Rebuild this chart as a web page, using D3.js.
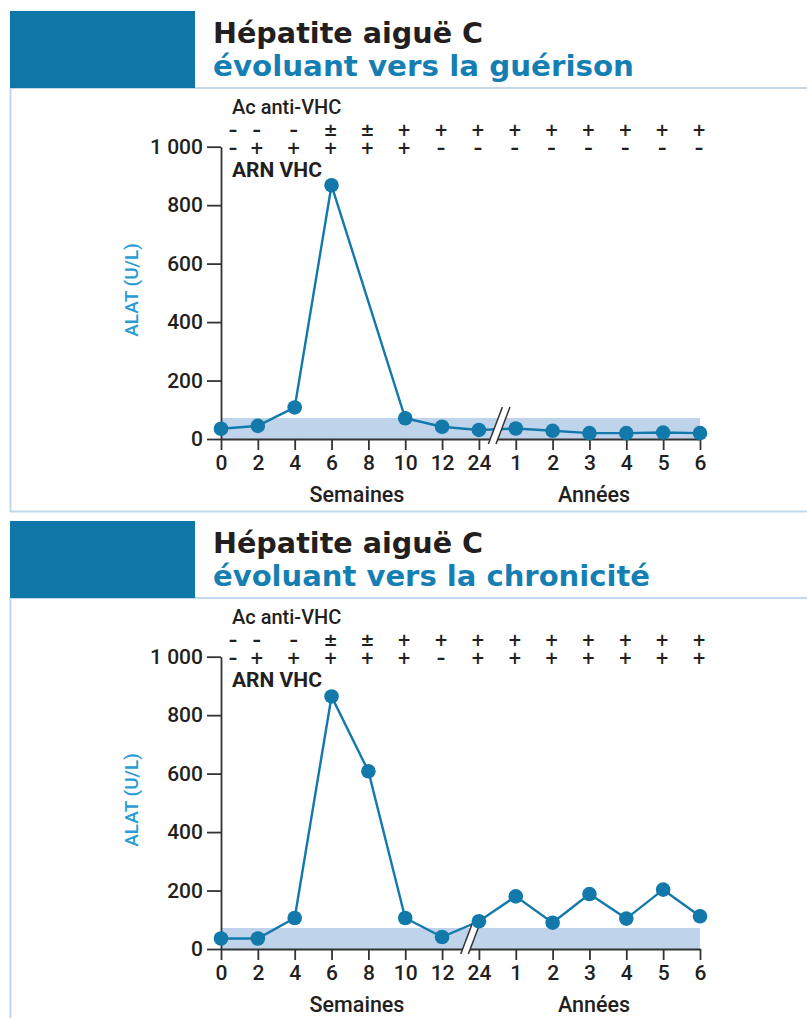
<!DOCTYPE html>
<html>
<head>
<meta charset="utf-8">
<script src="https://cdn.jsdelivr.net/npm/d3@7"></script>
<style>
  body { margin: 0; background: #fff; }
  svg { display: block; font-family: Roboto, "DejaVu Sans", sans-serif; }
  .tick text { font-family: Roboto, sans-serif; font-weight: 500; font-size: 21px; fill: #231f20; }
  .tick line, .domain { stroke: #333; stroke-width: 1.8; }
</style>
</head>
<body>
<div id="chart"></div>
<script>
// x categories: semaines then années
const xLabels = ['0', '2', '4', '6', '8', '10', '12', '24', '1', '2', '3', '4', '5', '6'];
const yTicks = [0, 200, 400, 600, 800, 1000];
const normalMax = 72;

// ALAT (U/L), null = no point
const guerisonAlat = [35, 45, 108, 868, null, 71, 42, 31, 36, 28, 20, 20, 22, 20];
const chroniciteAlat = [36, 36, 106, 864, 608, 106, 41, 95, 180, 90, 188, 104, 203, 112];

// serology rows
const guerisonAc = ['-', '-', '-', '±', '±', '+', '+', '+', '+', '+', '+', '+', '+', '+'];
const guerisonArn = ['-', '+', '+', '+', '+', '+', '-', '-', '-', '-', '-', '-', '-', '-'];
const chroniciteAc = ['-', '-', '-', '±', '±', '+', '+', '+', '+', '+', '+', '+', '+', '+'];
const chroniciteArn = ['-', '+', '+', '+', '+', '+', '-', '+', '+', '+', '+', '+', '+', '+'];

const titles = ['Hépatite aiguë C', 'Hépatite aiguë C'];
const subtitles = ['évoluant vers la guérison', 'évoluant vers la chronicité'];
const breaksAt = [7.55, 6.8]; // axis break, in category units

const blue = '#0f76a8';
const lineBlue = '#1279aa';
const width = 807, height = 1018;

const svg = d3.select('#chart').append('svg')
  .attr('width', width)
  .attr('height', height);

const fmt = d3.formatLocale({ decimal: ',', thousands: ' ', grouping: [3], currency: ['', ' €'] }).format(',');

const x = d3.scalePoint().domain(d3.range(xLabels.length)).range([221, 700]);

function drawPanel(i, top, values, ac, arn) {
  const g = svg.append('g').attr('transform', `translate(0, ${top})`);
  const y = d3.scaleLinear().domain([0, 1000]).range([439, 146.7]);

  // frame
  g.append('path')
    .attr('d', `M${width},88 H10.5 V511.5 H${width}`)
    .attr('fill', 'none')
    .attr('stroke', '#c3d7ea')
    .attr('stroke-width', 2);
  g.append('rect')
    .attr('x', 10).attr('y', 11)
    .attr('width', 185).attr('height', 77)
    .attr('fill', blue);

  g.append('text')
    .attr('x', 213).attr('y', 43)
    .attr('textLength', 270).attr('lengthAdjust', 'spacingAndGlyphs')
    .style('font-family', '"DejaVu Sans Condensed", "DejaVu Sans", sans-serif')
    .style('font-weight', 'bold').style('font-size', '28px')
    .attr('fill', '#231f20')
    .text(titles[i]);
  g.append('text')
    .attr('x', 213).attr('y', 76)
    .attr('textLength', i === 0 ? 421 : 437).attr('lengthAdjust', 'spacingAndGlyphs')
    .style('font-family', '"DejaVu Sans Condensed", "DejaVu Sans", sans-serif')
    .style('font-weight', 'bold').style('font-size', '28px')
    .attr('fill', '#157fb3')
    .text(subtitles[i]);

  // normal range band
  g.append('rect')
    .attr('x', x(0)).attr('y', y(normalMax))
    .attr('width', x(xLabels.length - 1) - x(0))
    .attr('height', y(0) - y(normalMax))
    .attr('fill', '#bfd4ea');

  // axes
  g.append('g')
    .attr('transform', `translate(${x(0)}, 0)`)
    .call(d3.axisLeft(y).tickValues(yTicks).tickSize(14).tickSizeOuter(0).tickPadding(4).tickFormat(fmt));
  g.append('g')
    .attr('transform', `translate(0, ${y(0)})`)
    .call(d3.axisBottom(x).tickSize(11).tickSizeOuter(0).tickPadding(5).tickFormat((d) => xLabels[d]));

  // y label
  g.append('text')
    .attr('transform', `translate(138, ${y(510)}) rotate(-90)`)
    .attr('text-anchor', 'middle')
    .style('font-size', '19px').style('font-weight', 500)
    .attr('fill', '#2a9bd5')
    .text('ALAT (U/L)');

  g.append('text').attr('x', 357).attr('y', 502).attr('text-anchor', 'middle')
    .style('font-size', '21.5px').style('font-weight', 500).attr('fill', '#231f20')
    .text('Semaines');
  g.append('text').attr('x', 594).attr('y', 502).attr('text-anchor', 'middle')
    .style('font-size', '21.5px').style('font-weight', 500).attr('fill', '#231f20')
    .text('Années');

  // serology
  g.append('text').attr('x', 232).attr('y', 114)
    .style('font-size', '20px').style('font-weight', 500).attr('fill', '#231f20')
    .text('Ac anti-VHC');
  g.append('text').attr('x', 232).attr('y', 177)
    .style('font-size', '21px').style('font-weight', 700).attr('fill', '#231f20')
    .text('ARN VHC');

  [[ac, 130], [arn, 148]].forEach(([row, ry]) => {
    g.selectAll(null)
      .data(row)
      .enter().append('text')
      .attr('x', (d, j) => (j === 0 ? x(j) + 12 : x(j) - 1))
      .attr('y', ry)
      .attr('dy', '0.35em')
      .attr('text-anchor', 'middle')
      .style('font-family', '"DejaVu Sans", sans-serif')
      .style('font-weight', 'bold').style('font-size', '17px')
      .attr('fill', '#231f20')
      .text((d) => (d === '-' ? '–' : d));
  });

  // line + dots
  const pts = values.map((v, j) => ({ j, v })).filter((d) => d.v !== null);
  const line = d3.line().x((d) => x(d.j)).y((d) => y(d.v));
  g.append('path')
    .datum(pts)
    .attr('d', line)
    .attr('fill', 'none')
    .attr('stroke', lineBlue)
    .attr('stroke-width', 2.4);

  // axis break
  const cx = x(0) + breaksAt[i] * x.step();
  const yb = y(0) + 5, yt = y(0) - 32, s = 7, gap = 3.8;
  g.append('path')
    .attr('d', `M${cx - gap - s},${yb} L${cx - gap + s},${yt} L${cx + gap + s},${yt} L${cx + gap - s},${yb} Z`)
    .attr('fill', '#fff');
  [-gap, gap].forEach((o) => {
    g.append('line')
      .attr('x1', cx + o - s).attr('y1', yb)
      .attr('x2', cx + o + s).attr('y2', yt)
      .attr('stroke', '#333').attr('stroke-width', 1.5);
  });

  g.selectAll('circle')
    .data(pts)
    .enter().append('circle')
    .attr('cx', (d) => x(d.j))
    .attr('cy', (d) => y(d.v))
    .attr('r', 7.3)
    .attr('fill', lineBlue);
}

drawPanel(0, 0, guerisonAlat, guerisonAc, guerisonArn);
drawPanel(1, 510, chroniciteAlat, chroniciteAc, chroniciteArn);
</script>
</body>
</html>
